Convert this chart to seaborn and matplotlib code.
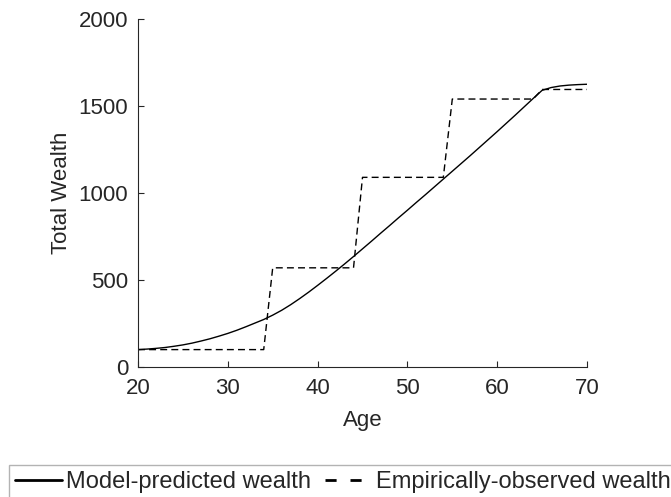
import matplotlib
import matplotlib.pyplot as plt
import numpy as np
import pandas as pd
import seaborn as sns
from matplotlib.lines import Line2D

matplotlib.use("Agg")

# ages 20..70, one value per year
AGES = list(range(20, 71))
MODEL_WEALTH = [
    100, 103, 107, 112, 119, 127, 137, 149, 162, 177,
    193, 211, 231, 252, 273, 298, 326, 358, 393, 430,
    469, 509, 550, 592, 635, 679, 723, 768, 812, 857,
    901, 946, 990, 1035, 1080, 1125, 1170, 1215, 1261, 1307,
    1353, 1400, 1447, 1495, 1543, 1590, 1606, 1615, 1620, 1623,
    1625,
]
OBSERVED_WEALTH = (
    [100] * 15      # 20-34
    + [570] * 10    # 35-44
    + [1090] * 10   # 45-54
    + [1540] * 10   # 55-64
    + [1595] * 6    # 65-70
)
X_TICKS = [20, 30, 40, 50, 60, 70]
Y_TICKS = [0, 500, 1000, 1500, 2000]
LEGEND_LABELS = ["Model-predicted wealth", "Empirically-observed wealth"]

INK = "#262626"

sns.set_theme(style="white")
plt.rcParams["font.family"] = ["Liberation Sans", "DejaVu Sans"]

df = pd.DataFrame({"age": AGES, "model": MODEL_WEALTH, "observed": OBSERVED_WEALTH})

fig = plt.figure(figsize=(6.71, 4.97), dpi=100)
ax = fig.add_axes([138 / 671, 1 - 367 / 497, 449 / 671, 348 / 497])

sns.lineplot(data=df, x="age", y="model", ax=ax, color="black", linewidth=1.0)
sns.lineplot(data=df, x="age", y="observed", ax=ax, color="black", linewidth=1.0,
             dashes=False, linestyle=(0, (5, 3)))

ax.set_xlim(20, 70)
ax.set_ylim(0, 2000)
ax.set_xticks(X_TICKS)
ax.set_yticks(Y_TICKS)
ax.set_xlabel("Age", fontsize=16, color=INK, labelpad=8)
ax.set_ylabel("Total Wealth", fontsize=16, color=INK, labelpad=5)
ax.tick_params(axis="x", bottom=True, direction="in", length=4, width=0.8,
               colors=INK, labelsize=16, pad=8)
ax.tick_params(axis="y", left=True, direction="in", length=4, width=0.8,
               colors=INK, labelsize=16, pad=7)
for side in ["top", "right"]:
    ax.spines[side].set_visible(False)
for side in ["left", "bottom"]:
    ax.spines[side].set_color(INK)
    ax.spines[side].set_linewidth(0.8)
ax.grid(False)

handles = [
    Line2D([], [], color="black", linewidth=2.0),
    Line2D([], [], color="black", linewidth=2.0, linestyle=(0, (4, 5))),
]
leg = fig.legend(
    handles, LEGEND_LABELS,
    loc="upper left",
    bbox_to_anchor=(9 / 671, 1 - 465 / 497),
    bbox_transform=fig.transFigure,
    borderaxespad=0,
    ncol=2,
    fontsize=17,
    frameon=True,
    fancybox=False,
    handlelength=2.0,
    handletextpad=0.15,
    columnspacing=0.6,
    borderpad=0.25,
)
leg.get_frame().set_edgecolor("#a0a0a0")
leg.get_frame().set_linewidth(1.0)
for t in leg.get_texts():
    t.set_color(INK)

fig.savefig("out.png", dpi=100)
